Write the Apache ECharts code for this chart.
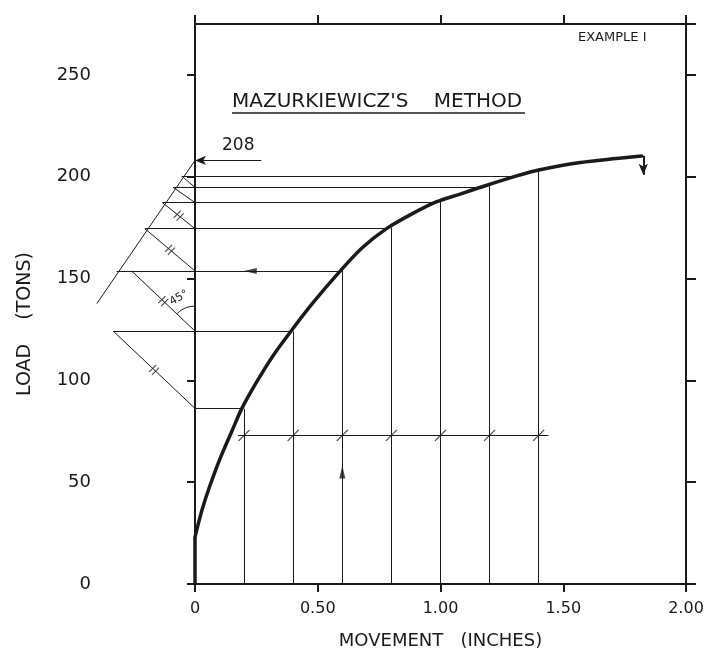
<!DOCTYPE html>
<html><head><meta charset="utf-8">
<script src="https://cdn.jsdelivr.net/npm/echarts@6/dist/echarts.min.js"></script>
<style>html,body{margin:0;padding:0;background:#fff}#c{width:717px;height:662px}</style>
</head><body><div id="c"></div>
<script>
// Load–movement curve (movement in inches, load in tons)
const curveMovement = [0, 0.01, 0.03, 0.06, 0.10, 0.15, 0.19, 0.25, 0.32, 0.39, 0.48, 0.59, 0.68, 0.78, 0.88, 0.98, 1.08, 1.16, 1.31, 1.40, 1.57, 1.82];
const curveLoad     = [23, 28, 37, 48, 61, 75, 86, 99, 112.5, 124, 138, 153.5, 165, 174.5, 181.5, 187.5, 191.5, 194.7, 200.4, 203.3, 207, 210.2];
const initialMovement = [0, 0];
const initialLoad     = [0, 23];

// Equal movement steps (vertical lines)
const stepMovement = [0.2, 0.4, 0.6, 0.8, 1.0, 1.2, 1.4];
const stepTopLoad  = [86, 124, 154, 175, 188, 196, 203.5];
const baseLoad = [73];
const baseMovement = [0.175, 1.44];

// Horizontal projections to load axis
const projLoad  = [200.4, 194.7, 187.3, 174.5, 153.7, 124.2, 86.2];
const projLeft  = [-0.054, -0.088, -0.133, -0.204, -0.319, -0.333, 0];
const projRight = [1.31, 1.16, 0.98, 0.78, 0.59, 0.39, 0.19];

// 45° construction lines
const diagFromLoad = [86.2, 124.2, 153.7, 174.5, 187.3, 194.7];
const diagToLoad   = [124.2, 153.7, 174.5, 187.3, 194.7, 200.4];
const diagToMove   = [-0.333, -0.258, -0.204, -0.133, -0.088, -0.054];
const diagMarked   = [1, 1, 1, 1, 0, 0];

// Mazurkiewicz line through intersection points
const mazMovement = [-0.40, 0];
const mazLoad     = [137.7, 208];

// Annotations
const ultimateLoad = [208];
const ultimateArrowMovement = [0.27, 0];
const endArrowMovement = [1.826];
const endArrowLoad = [210.2, 201];
const midArrowLeft = [0.225, 153.7];
const midArrowUp = [0.6, 55];
const angleLabelPos = [-0.065, 140.5];

// Axis ticks
const xTicks = [0, 0.5, 1.0, 1.5, 2.0];
const yTicks = [0, 50, 100, 150, 200, 250];

const INK = '#1a1a1a';
const FONT = 'DejaVu Sans';

const segments = [];
stepMovement.forEach((x, i) => segments.push([[x, 0], [x, stepTopLoad[i]]]));
projLoad.forEach((l, i) => segments.push([[projLeft[i], l], [projRight[i], l]]));
segments.push([[baseMovement[0], baseLoad[0]], [baseMovement[1], baseLoad[0]]]);
diagFromLoad.forEach((l, i) => segments.push([[0, l], [diagToMove[i], diagToLoad[i]]]));
segments.push([[mazMovement[0], mazLoad[0]], [mazMovement[1], mazLoad[1]]]);

const diagMarks = [];
diagFromLoad.forEach((l, i) => {
  if (diagMarked[i]) diagMarks.push([diagToMove[i] / 2, (l + diagToLoad[i]) / 2]);
});

const chart = echarts.init(document.getElementById('c'), null, {renderer: 'canvas'});
const axisLineStyle = {color: INK, width: 2};

chart.setOption({
  backgroundColor: '#fff',
  animation: false,
  grid: {left: 195, right: 31, top: 24, bottom: 78},
  xAxis: [{
    type: 'value', min: 0, max: 2, interval: 0.5, position: 'bottom',
    axisLine: {show: true, onZero: false, lineStyle: axisLineStyle},
    axisTick: {show: true, length: 8, lineStyle: axisLineStyle},
    splitLine: {show: false},
    axisLabel: {fontSize: 16, color: INK, fontFamily: FONT, margin: 17,
      formatter: v => xTicks.indexOf(v) < 0 ? '' : (v === 0 ? '0' : v.toFixed(2))},
    name: 'MOVEMENT   (INCHES)', nameLocation: 'middle', nameGap: 48,
    nameTextStyle: {fontSize: 18, color: INK, fontFamily: FONT}
  }, {
    type: 'value', min: 0, max: 2, interval: 0.5, position: 'top',
    axisLine: {show: true, onZero: false, lineStyle: axisLineStyle},
    axisTick: {show: true, length: 9, lineStyle: axisLineStyle},
    splitLine: {show: false}, axisLabel: {show: false}
  }],
  yAxis: [{
    type: 'value', min: 0, max: 275, interval: 50, position: 'left',
    axisLine: {show: true, onZero: false, lineStyle: axisLineStyle},
    axisTick: {show: true, length: 8, lineStyle: axisLineStyle},
    splitLine: {show: false},
    axisLabel: {fontSize: 18, color: INK, fontFamily: FONT, margin: 104, showMaxLabel: false,
      formatter: v => yTicks.indexOf(v) < 0 ? '' : String(v)},
    name: 'LOAD    (TONS)', nameLocation: 'middle', nameGap: 160, nameRotate: 90,
    nameTextStyle: {fontSize: 19, color: INK, fontFamily: FONT, padding: [0, 40, 0, 0]}
  }, {
    type: 'value', min: 0, max: 275, interval: 50, position: 'right',
    axisLine: {show: true, onZero: false, lineStyle: axisLineStyle},
    axisTick: {show: true, length: 10, lineStyle: axisLineStyle},
    splitLine: {show: false}, axisLabel: {show: false}
  }],
  series: [
    {
      type: 'lines', coordinateSystem: 'cartesian2d', clip: false, silent: true,
      lineStyle: {color: INK, width: 1, opacity: 1},
      data: segments.map(s => ({coords: s}))
    },
    {
      type: 'line', clip: false, silent: true, symbol: 'none',
      lineStyle: {color: INK, width: 3.5},
      data: initialMovement.map((x, i) => [x, initialLoad[i]])
    },
    {
      type: 'line', clip: false, silent: true, symbol: 'none', smooth: 0.3,
      lineStyle: {color: INK, width: 3.5, cap: 'round', join: 'round'},
      data: curveMovement.map((x, i) => [x, curveLoad[i]]),
      markLine: {
        silent: true, symbol: ['none', 'arrow'], symbolSize: [7, 11],
        label: {show: false},
        lineStyle: {color: INK, width: 1.2, type: 'solid'},
        data: [
          [{coord: [ultimateArrowMovement[0], ultimateLoad[0]]}, {coord: [ultimateArrowMovement[1], ultimateLoad[0]]}],
          [{coord: [endArrowMovement[0], endArrowLoad[0]], lineStyle: {width: 2}}, {coord: [endArrowMovement[0], endArrowLoad[1]]}]
        ]
      }
    },
    {
      type: 'scatter', clip: false, silent: true,
      symbol: 'path://M0,12L12,0', symbolSize: 11,
      itemStyle: {color: 'transparent', borderColor: INK, borderWidth: 1.2},
      data: stepMovement.map(x => [x, baseLoad[0]])
    },
    {
      type: 'scatter', clip: false, silent: true,
      symbol: 'path://M0,10L10,0M4,14L14,4', symbolSize: 10,
      itemStyle: {color: 'transparent', borderColor: INK, borderWidth: 1.1},
      data: diagMarks
    },
    {
      type: 'scatter', clip: false, silent: true,
      symbol: 'path://M5,0L10,16L0,16Z', symbolSize: [6, 13],
      itemStyle: {color: INK},
      data: [
        {value: midArrowLeft, symbolRotate: 90},
        {value: midArrowUp, symbolRotate: 0}
      ]
    }
  ]
});

// Angle arc and label, placed from data coordinates
const c0 = chart.convertToPixel({xAxisIndex: 0, yAxisIndex: 0}, [0, diagFromLoad[1]]);
const lp = chart.convertToPixel({xAxisIndex: 0, yAxisIndex: 0}, angleLabelPos);
chart.setOption({
  graphic: [
    {type: 'arc', silent: true, shape: {cx: c0[0], cy: c0[1], r: 25, startAngle: -3 * Math.PI / 4, endAngle: -Math.PI / 2, clockwise: true},
     style: {stroke: INK, lineWidth: 1, fill: null}},
    {type: 'text', silent: true, x: lp[0], y: lp[1], rotation: Math.PI / 6,
     style: {text: '45°', fill: INK, font: '11px ' + FONT, align: 'center', verticalAlign: 'middle'}},
    {type: 'text', silent: true, x: 232, y: 102,
     style: {text: "MAZURKIEWICZ'S    METHOD", fill: INK, font: '20px ' + FONT, align: 'left', verticalAlign: 'middle'}},
    {type: 'line', silent: true, shape: {x1: 232, y1: 113, x2: 525, y2: 113}, style: {stroke: INK, lineWidth: 1.5}},
    {type: 'text', silent: true, x: 578, y: 38,
     style: {text: 'EXAMPLE I', fill: INK, font: '13px ' + FONT, align: 'left', verticalAlign: 'middle'}},
    {type: 'text', silent: true, x: 222, y: 146,
     style: {text: String(ultimateLoad[0]), fill: INK, font: '17px ' + FONT, align: 'left', verticalAlign: 'middle'}}
  ]
});
</script>
</body></html>
